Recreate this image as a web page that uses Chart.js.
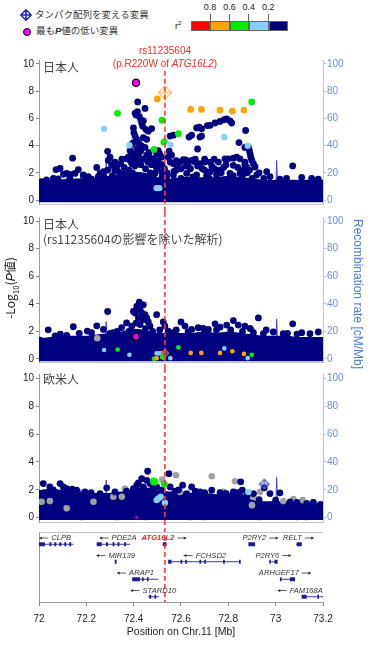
<!DOCTYPE html>
<html>
<head>
<meta charset="utf-8">
<script src="https://cdn.jsdelivr.net/npm/chart.js@4.4.1/dist/chart.umd.min.js"></script>
<style>
body { margin: 0; background: #fff; width: 373px; height: 646px; overflow: hidden; position: relative; font-family: "Liberation Sans", Arial, sans-serif; }
canvas { position: absolute; left: 0; }
.t { position: absolute; white-space: nowrap; z-index: 2; line-height: 1; }
.jp { font-family: "Noto Sans CJK JP", "Liberation Sans", sans-serif; }
.c { transform: translate(-50%, -50%); }
</style>
</head>
<body>
<canvas id="p1" width="373" height="162" style="top:50px"></canvas>
<canvas id="p2" width="373" height="156" style="top:212px"></canvas>
<canvas id="p3" width="373" height="160" style="top:368px"></canvas>
<canvas id="g" width="373" height="118" style="top:528px"></canvas>

<!-- legend -->
<svg class="t" width="12" height="12" style="left:20px;top:9px">
  <path d="M6 0.8 L11.2 6 L6 11.2 L0.8 6 Z M6 0.8 V11.2 M0.8 6 H11.2" fill="none" stroke="#2b2bb0" stroke-width="1.6"/>
</svg>
<div class="t jp" style="left:35px;top:10px;font-size:9.5px;color:#333">タンパク配列を変える変異</div>
<div class="t" style="left:23px;top:28px;width:6px;height:6px;border-radius:50%;background:#ff00ff;border:1px solid #000"></div>
<div class="t jp" style="left:36px;top:26px;font-size:9.5px;color:#333">最も<b><i style="font-family:'Liberation Sans'">P</i></b>値の低い変異</div>
<div class="t" style="left:175px;top:20px;font-size:9px;color:#222">r<sup style="font-size:6px">2</sup></div>
<div id="bar"></div>

<div class="t c" style="left:165px;top:51px;font-size:10px;color:#ff2a2a">rs11235604</div>
<div class="t c" style="left:165px;top:64px;font-size:10px;color:#ff2a2a">(p.R220W of <i>ATG16L2</i>)</div>

<div class="t jp" style="left:43px;top:61px;font-size:12px;color:#444">日本人</div>
<div class="t jp" style="left:43px;top:218px;font-size:12px;color:#444">日本人</div>
<div class="t jp" style="left:43px;top:233px;font-size:12px;color:#444">(rs11235604の影響を除いた解析)</div>
<div class="t jp" style="left:43px;top:373px;font-size:12px;color:#444">欧米人</div>

<div class="t jp" style="left:12px;top:288px;font-size:12px;color:#222;transform:translate(-50%,-50%) rotate(-90deg)">-Log<sub style="font-size:8px">10</sub>(<i style="font-family:'Liberation Sans'">P</i>値)</div>
<div class="t" style="left:358px;top:294px;font-size:12px;color:#4a7ad0;transform:translate(-50%,-50%) rotate(90deg)">Recombination rate [cM/Mb]</div>
<div class="t c" style="left:181px;top:631px;font-size:10.5px;color:#222">Position on Chr.11 [Mb]</div>

<script>
// ---- data ----
const xMin = 72, xMax = 73.2;
const rsPos = 72.532;              // rs11235604 (ATG16L2)
const xTicks = [72, 72.2, 72.4, 72.6, 72.8, 73, 73.2];
const yTicks = [0, 2, 4, 6, 8, 10];
const y2Ticks = [0, 20, 40, 60, 80, 100];

const r2Labels = ['0.8', '0.6', '0.4', '0.2'];
const r2Colors = ['#ff0000', '#ffa500', '#00ee00', '#87cefa', '#000080'];

// top of the dense cloud of points near zero
const bandX = [72.0, 72.05, 72.1, 72.15, 72.2, 72.25, 72.3, 72.35, 72.4, 72.45, 72.5, 72.55, 72.6,
               72.65, 72.7, 72.75, 72.8, 72.85, 72.9, 72.95, 73.0, 73.05, 73.1, 73.15, 73.2];
const bandTopJp = [1.2, 1.3, 1.35, 1.4, 1.4, 1.4, 1.6, 1.7, 1.9, 1.8, 1.5, 1.4, 1.5, 1.5, 1.5, 1.5, 1.6, 1.5, 1.4, 1.3, 1.3, 1.3, 1.3, 1.3, 1.3];
const bandTopCond = [1.3, 1.4, 1.5, 1.5, 1.5, 1.6, 1.7, 1.8, 2.0, 1.9, 1.7, 1.7, 1.7, 1.7, 1.8, 1.7, 1.8, 1.7, 1.6, 1.5, 1.5, 1.5, 1.4, 1.4, 1.4];
const bandTopEur = [1.8, 1.9, 1.8, 1.7, 1.6, 1.6, 1.6, 1.7, 1.9, 2.0, 1.8, 1.7, 1.7, 1.6, 1.6, 1.5, 1.6, 1.6, 1.1, 1.0, 1.0, 1.0, 0.9, 0.9, 0.9];

// recombination rate (cM/Mb)
const recombPos = [72.0, 72.05, 72.1, 72.15, 72.17, 72.177, 72.185, 72.22, 72.27, 72.28, 72.284, 72.29, 72.33, 72.4, 72.45,
                   72.5, 72.55, 72.6, 72.66, 72.7, 72.76, 72.8, 72.9, 72.99, 73.0, 73.004, 73.01, 73.06, 73.12, 73.2];
const recombRate = [1, 1, 2, 1, 2, 20, 2, 1, 2, 3, 27, 3, 1, 2, 1, 2, 1, 2, 1, 3, 1, 2, 1, 2, 3, 29, 3, 1, 2, 1];

// panel 1: Japanese
const jpLead = [[72.41, 8.62]];
const jpMissense = [[72.532, 7.9]];
const jpOrange = [[72.5, 7.43], [72.641, 6.66], [72.686, 6.66], [72.765, 6.61], [72.817, 6.54], [72.866, 6.61]];
const jpGreen = [[72.332, 6.37], [72.52, 5.87], [72.589, 4.87], [72.486, 3.72], [72.528, 4.25], [72.899, 7.21]];
const jpBlue = [[72.275, 5.23], [72.382, 4.03], [72.531, 4.32], [72.555, 4.06], [72.783, 4.63], [72.882, 3.99], [72.497, 0.88], [72.508, 0.88]];
const jpNavy = [
  [72.011, 1.36], [72.032, 1.48], [72.061, 1.6], [72.072, 2.24], [72.089, 2.32], [72.103, 1.89], [72.117, 1.96], [72.131, 1.89],
  [72.142, 3.08], [72.152, 1.96], [72.166, 2.24], [72.187, 1.84], [72.208, 1.72], [72.222, 1.53], [72.244, 2.39], [72.258, 1.96],
  [72.272, 2.08], [72.279, 1.6], [72.29, 3.58], [72.293, 2.91], [72.3, 3.15], [72.307, 2.55], [72.321, 2.79], [72.328, 2.43],
  [72.335, 2.08], [72.345, 2.67], [72.356, 1.96], [72.37, 3.03], [72.377, 3.15], [72.385, 2.91], [72.392, 2.67], [72.385, 3.63],
  [72.392, 4.1], [72.399, 4.22], [72.406, 6.37], [72.41, 6.25], [72.416, 6.49], [72.417, 7.21], [72.424, 6.13], [72.43, 5.9],
  [72.434, 5.66], [72.438, 5.42], [72.441, 5.82], [72.448, 6.73], [72.452, 5.18], [72.462, 5.06], [72.476, 5.25], [72.399, 5.3],
  [72.401, 4.94], [72.406, 4.7], [72.413, 4.46], [72.42, 4.22], [72.427, 4.06], [72.434, 3.96], [72.448, 3.87], [72.413, 3.75],
  [72.399, 3.39], [72.392, 3.2], [72.441, 4.58], [72.455, 4.46], [72.497, 3.39], [72.504, 3.63], [72.51, 3.39], [72.518, 3.15],
  [72.504, 2.79], [72.51, 2.55], [72.497, 2.32], [72.518, 2.08], [72.49, 1.96], [72.48, 1.67], [72.554, 4.7], [72.568, 4.77],
  [72.546, 3.15], [72.554, 2.79], [72.568, 2.67], [72.582, 2.55], [72.596, 2.79], [72.61, 2.96], [72.645, 2.91], [72.659, 2.79],
  [72.68, 2.67], [72.701, 2.79], [72.723, 2.79], [72.758, 2.79], [72.786, 3.03], [72.8, 3.03], [72.821, 3.08], [72.835, 3.15],
  [72.849, 3.03], [72.87, 2.79], [72.885, 3.87], [72.889, 3.63], [72.892, 3.39], [72.895, 3.15], [72.899, 2.91], [72.906, 2.67],
  [72.913, 2.43], [72.877, 2.43], [72.87, 2.6], [72.634, 4.63], [72.645, 4.77], [72.666, 5.3], [72.677, 5.35], [72.687, 5.23],
  [72.68, 4.63], [72.687, 4.7], [72.711, 5.47], [72.723, 5.49], [72.744, 5.66], [72.765, 5.78], [72.782, 5.9], [72.793, 5.97],
  [72.807, 5.82], [72.814, 5.66], [72.67, 3.75], [72.845, 4.22], [72.873, 5.11], [72.87, 3.87], [72.962, 2.08], [72.976, 1.72],
  [73.072, 2.51], [72.92, 1.84], [73.11, 1.67], [73.152, 1.6], [73.18, 1.53], [73.018, 1.53], [73.046, 1.6], [72.624, 1.96],
  [72.666, 1.84], [72.708, 1.77], [72.75, 1.84], [72.807, 1.96], [72.849, 1.96], [72.6, 1.6], [72.539, 1.72], [72.568, 1.84],
  [72.821, 2.55], [72.758, 2.2], [72.723, 2.08], [72.31, 1.8], [72.32, 2.2], [72.34, 1.7], [72.36, 2.4], [72.37, 1.8],
  [72.38, 2.2], [72.395, 2.0], [72.405, 2.5], [72.415, 2.9], [72.42, 3.3], [72.43, 2.6], [72.44, 3.0], [72.45, 2.3],
  [72.46, 2.8], [72.465, 3.5], [72.47, 2.0], [72.405, 3.0], [72.43, 3.6], [72.455, 3.3], [72.475, 2.6], [72.485, 3.0],
  [72.49, 2.6], [72.52, 1.7], [72.53, 2.3], [72.54, 2.0], [72.58, 2.2], [72.62, 2.5], [72.64, 2.3], [72.69, 2.3],
  [72.73, 2.5], [72.78, 2.4], [72.86, 2.2], [72.89, 2.2], [72.93, 2.0], [72.95, 1.6], [72.74, 3.0], [72.7, 3.0],
  [72.66, 3.0], [72.62, 2.95], [72.58, 2.9], [72.56, 3.3], [72.55, 3.6], [72.57, 2.1], [72.6, 2.3], [72.63, 2.6],
  [72.65, 1.7], [72.67, 2.5], [72.7, 2.2], [72.72, 1.6], [72.74, 2.3], [72.77, 2.0], [72.79, 2.6], [72.82, 1.8],
  [72.84, 2.4], [72.86, 1.8], [72.88, 2.0], [72.9, 1.6], [72.52, 2.6], [72.5, 2.9], [72.47, 3.1], [72.35, 3.0],
  [72.33, 2.6], [72.29, 2.2], [72.27, 1.7], [72.25, 1.7], [72.2, 1.6], [72.13, 1.6], [72.08, 1.55]
];

// panel 2: Japanese, conditioned on rs11235604
const condLead = [[72.41, 1.6]];
const condMissense = [[72.532, 0.42]];
const condOrange = [[72.497, 0.05], [72.641, 0.43], [72.686, 0.43], [72.765, 0.43], [72.817, 0.55], [72.866, 0.36]];
const condGreen = [[72.332, 0.67], [72.589, 0.83], [72.486, 0.0], [72.52, 0.12], [72.527, 0.07], [72.899, 0.29]];
const condBlue = [[72.275, 0.64], [72.382, 0.29], [72.497, 0.4], [72.507, 0.4], [72.517, 0.4], [72.555, 0.05], [72.783, 0.76], [72.882, 0.05]];
const condGray = [[72.246, 1.5], [72.899, 2.1]];
const condNavy = [
  [72.29, 3.44], [72.145, 2.33], [72.039, 2.11], [72.004, 1.35], [72.068, 1.66], [72.117, 1.71], [72.204, 2.02], [72.244, 2.4],
  [72.222, 1.9], [72.272, 2.14], [72.314, 1.9], [72.349, 2.26], [72.37, 2.61], [72.392, 2.38], [72.424, 4.11], [72.441, 3.92],
  [72.413, 3.8], [72.399, 3.44], [72.406, 3.33], [72.427, 3.56], [72.434, 3.33], [72.448, 3.21], [72.455, 2.97], [72.441, 2.85],
  [72.42, 2.97], [72.462, 2.68], [72.469, 2.38], [72.427, 2.49], [72.497, 3.21], [72.525, 2.68], [72.532, 2.38], [72.546, 2.02],
  [72.568, 1.9], [72.6, 2.68], [72.617, 2.38], [72.645, 2.14], [72.673, 2.26], [72.694, 2.21], [72.716, 2.14], [72.744, 2.54],
  [72.765, 2.3], [72.793, 2.45], [72.821, 2.78], [72.842, 2.45], [72.87, 2.38], [72.892, 2.21], [72.927, 2.97], [72.906, 1.9],
  [72.948, 1.83], [72.99, 1.95], [73.032, 1.83], [73.072, 2.54], [73.11, 1.9], [73.145, 1.83], [73.18, 1.95], [72.38, 2.0],
  [72.41, 2.6], [72.45, 2.2], [72.48, 2.0], [72.51, 2.1], [72.58, 2.1], [72.63, 1.95], [72.7, 2.0], [72.75, 2.1], [72.81, 2.1],
  [72.86, 2.0], [72.96, 2.1], [73.05, 1.85], [73.09, 1.8], [72.17, 1.85], [72.09, 1.8], [72.33, 2.0], [72.3, 1.85]
];

// panel 3: European
const eurLead = [[72.413, 0.02]];
const eurMissense = [[72.952, 2.4]];
const eurGreen = [[72.483, 2.64], [72.486, 2.55], [72.49, 2.6], [72.53, 2.4]];
const eurBlue = [[72.497, 1.26], [72.504, 1.38], [72.514, 1.5], [72.532, 1.07], [72.885, 1.85]];
const eurGray = [
  [72.579, 3.04], [72.73, 2.97], [72.828, 2.61], [72.521, 2.73], [72.363, 2.09], [73.032, 1.19], [73.075, 1.33], [73.114, 1.26],
  [72.596, 1.85], [72.779, 1.85], [72.011, 1.14], [72.046, 1.19], [72.314, 1.5], [72.906, 1.5], [72.934, 1.85], [72.23, 1.14],
  [72.35, 1.5], [72.117, 0.67], [72.9, 0.9], [73.16, 1.1]
];
const eurGrayLow = [[72.18, -0.05], [72.33, -0.05], [72.45, -0.05], [72.64, -0.05], [72.7, -0.05], [72.93, -0.05], [73.09, -0.05], [73.13, -0.05]];
const eurNavy = [
  [72.018, 2.45], [72.046, 2.21], [72.089, 2.45], [72.103, 2.21], [72.117, 2.09], [72.159, 1.97], [72.194, 1.85], [72.258, 1.73],
  [72.286, 2.14], [72.321, 1.85], [72.399, 2.09], [72.413, 2.33], [72.434, 2.8], [72.459, 3.33], [72.455, 2.68], [72.469, 2.45],
  [72.441, 2.21], [72.497, 2.21], [72.549, 3.16], [72.554, 2.21], [72.575, 1.9], [72.607, 2.33], [72.645, 2.21], [72.624, 1.73],
  [72.68, 1.85], [72.73, 1.97], [72.765, 1.8], [72.821, 1.85], [72.852, 2.57], [72.859, 1.97], [72.906, 1.73], [72.952, 2.14],
  [72.976, 1.73], [73.018, 1.78], [73.061, 1.14], [73.131, 1.02], [73.159, 1.09], [72.06, 2.0], [72.14, 2.05], [72.22, 1.8],
  [72.37, 1.9], [72.42, 2.5], [72.48, 2.3], [72.52, 2.0], [72.59, 2.0], [72.66, 1.9], [72.7, 1.8], [72.79, 1.75], [72.84, 1.8],
  [72.88, 1.6], [72.93, 1.3], [73.0, 1.25], [73.09, 1.1], [73.19, 0.95]
];

// gene track
const geneNames  = ['CLPB', 'PDE2A', 'ATG16L2', 'P2RY2', 'RELT', 'MIR139', 'FCHSD2', 'P2RY6', 'ARAP1', 'ARHGEF17', 'STARD10', 'FAM168A'];
const geneStart  = [72.0, 72.244, 72.523, 72.885, 73.086, 72.323, 72.546, 72.973, 72.394, 73.018, 72.462, 73.11];
const geneEnd    = [72.145, 72.385, 72.539, 72.913, 73.11, 72.325, 72.852, 73.008, 72.504, 73.082, 72.508, 73.2];
const geneRow    = [0, 0, 0, 0, 0, 1, 1, 1, 2, 2, 3, 3];
const geneStrand = [-1, -1, 1, 1, 1, -1, -1, 1, -1, 1, -1, -1];
const geneLabelX = [72.068, 72.334, 72.528, 72.935, 73.096, 72.324, 72.701, 72.99, 72.408, 73.039, 72.483, 73.104];
const exons = [
  [72.0, 72.025, 0], [72.044, 72.052, 0], [72.065, 72.073, 0], [72.086, 72.094, 0], [72.107, 72.115, 0], [72.128, 72.136, 0],
  [72.244, 72.265, 0], [72.283, 72.291, 0], [72.311, 72.319, 0], [72.332, 72.34, 0], [72.36, 72.368, 0],
  [72.523, 72.539, 0], [72.885, 72.913, 0], [73.089, 73.11, 0],
  [72.32, 72.328, 1], [72.546, 72.56, 1], [72.598, 72.605, 1], [72.618, 72.625, 1], [72.678, 72.685, 1], [72.698, 72.705, 1],
  [72.778, 72.785, 1], [72.845, 72.852, 1], [72.973, 72.979, 1], [72.995, 73.008, 1],
  [72.394, 72.427, 2], [72.435, 72.442, 2], [72.456, 72.463, 2], [73.018, 73.025, 2], [73.06, 73.082, 2],
  [72.466, 72.474, 3], [72.488, 72.495, 3], [73.11, 73.131, 3], [73.176, 73.183, 3]
];
const rowLineY = [3.3, 2.3, 1.3, 0.3];

// ---- drawing ----
const FONT = '"Liberation Sans", Arial, sans-serif';
const NAVY = '#000080';
Chart.defaults.font.family = FONT;

// r2 colour bar
(function () {
  const bar = document.getElementById('bar');
  r2Colors.forEach((c, i) => {
    const d = document.createElement('div');
    d.className = 't';
    d.style.cssText = `left:${191 + i * 19.4}px;top:21px;width:19.4px;height:10px;background:${c};box-sizing:border-box;border:1px solid #666`;
    bar.appendChild(d);
  });
  r2Labels.forEach((l, i) => {
    const x = 210 + i * 19.4;
    const d = document.createElement('div');
    d.className = 't c';
    d.style.cssText = `left:${x}px;top:7px;font-size:9px;color:#222`;
    d.textContent = l;
    bar.appendChild(d);
    const tk = document.createElement('div');
    tk.className = 't';
    tk.style.cssText = `left:${x - 0.5}px;top:14px;width:1px;height:7px;background:#666`;
    bar.appendChild(tk);
  });
})();

function diamondIcon(color, size, lw) {
  const c = document.createElement('canvas');
  c.width = c.height = size;
  const ctx = c.getContext('2d');
  const h = size / 2, m = lw;
  ctx.strokeStyle = color;
  ctx.lineWidth = lw;
  ctx.beginPath();
  ctx.moveTo(h, m); ctx.lineTo(size - m, h); ctx.lineTo(h, size - m); ctx.lineTo(m, h); ctx.closePath();
  ctx.moveTo(h, m); ctx.lineTo(h, size - m);
  ctx.moveTo(m, h); ctx.lineTo(size - m, h);
  ctx.stroke();
  return c;
}

const pts = arr => arr.map(([x, y]) => ({ x, y }));
const noClipX = { left: 0, right: 0, top: false, bottom: false };

function dots(arr, color, r, order, extra) {
  return Object.assign({
    type: 'scatter', data: pts(arr), pointRadius: r,
    pointBackgroundColor: color, pointBorderColor: color, pointBorderWidth: 0,
    order, clip: noClipX
  }, extra || {});
}

function band(tops) {
  return {
    type: 'line', data: bandX.map((x, i) => ({ x, y: tops[i] })),
    borderColor: NAVY, backgroundColor: NAVY, borderWidth: 5, pointRadius: 0,
    tension: 0.2, fill: { value: -0.17 }, order: 20, clip: 0
  };
}

// recombination line sits behind the dense cloud, only its peaks show
function recomb() {
  return {
    type: 'line', yAxisID: 'y2', data: recombPos.map((x, i) => ({ x, y: recombRate[i] })),
    borderColor: '#3c3cff', borderWidth: 1, pointRadius: 0, fill: false, order: 25, clip: 0
  };
}

const rsLinePlugin = {
  id: 'rsLine',
  afterDatasetsDraw(chart, args, opts) {
    const ctx = chart.ctx;
    const x = chart.scales.x.getPixelForValue(rsPos);
    const top = opts.fromY != null ? chart.scales.y.getPixelForValue(opts.fromY) : 0;
    const bottom = opts.toArea ? chart.chartArea.bottom : chart.height;
    ctx.save();
    ctx.strokeStyle = '#ff3838';
    ctx.lineWidth = 1.6;
    ctx.setLineDash([5, 3]);
    ctx.beginPath();
    ctx.moveTo(x, top);
    ctx.lineTo(x, bottom);
    ctx.stroke();
    ctx.restore();
  }
};

function panelScales(yMin, yMax) {
  return {
    x: {
      type: 'linear', min: xMin, max: xMax,
      ticks: { display: false }, grid: { display: false, drawTicks: false },
      border: { color: '#c4c4c4' },
      afterFit: s => { s.height = 0; s.paddingLeft = 0; s.paddingRight = 0; }
    },
    y: {
      position: 'left', min: yMin, max: yMax,
      afterBuildTicks: a => { a.ticks = yTicks.map(v => ({ value: v })); },
      ticks: { font: { size: 10 }, color: '#222', padding: 2 },
      grid: { drawOnChartArea: false, tickLength: 3, color: '#888' },
      border: { color: '#9a9a9a' },
      afterFit: s => { s.width = 39; s.paddingTop = 0; s.paddingBottom = 0; }
    },
    y2: {
      position: 'right', min: yMin * 10, max: yMax * 10,
      afterBuildTicks: a => { a.ticks = y2Ticks.map(v => ({ value: v })); },
      ticks: { font: { size: 10 }, color: '#6b8fdc', padding: 1 },
      grid: { drawOnChartArea: false, tickLength: 3, color: '#b9b9e6' },
      border: { color: '#c0c0e8' },
      afterFit: s => { s.width = 50; s.paddingTop = 0; s.paddingBottom = 0; }
    }
  };
}

function makePanel(id, datasets, padTop, padBottom, yMin, yMax, lineOpts) {
  return new Chart(document.getElementById(id), {
    type: 'scatter',
    data: { datasets },
    options: {
      responsive: false, animation: false, devicePixelRatio: 1, events: [],
      layout: { padding: { top: padTop, bottom: padBottom, left: 0, right: 0 } },
      scales: panelScales(yMin, yMax),
      plugins: { legend: { display: false }, tooltip: { enabled: false }, rsLine: lineOpts }
    },
    plugins: [rsLinePlugin]
  });
}

// panel 1
makePanel('p1', [
  band(bandTopJp),
  recomb(),
  dots(jpNavy, NAVY, 3.4, 10),
  dots(jpBlue, '#87cefa', 3.2, 5),
  dots(jpGreen, '#00ee00', 3.4, 4),
  dots(jpOrange, '#ffa500', 3.4, 3),
  dots(jpMissense, '#ffc880', 8, 1, { pointStyle: diamondIcon('#ffc070', 16, 1.3) }),
  dots(jpLead, '#ff00ff', 3.6, 0, { pointBorderColor: '#000', pointBorderWidth: 1.3 })
], 10, 4, -0.29, 10.29, { fromY: 9.5 });

// panel 2
makePanel('p2', [
  band(bandTopCond),
  recomb(),
  dots(condGray, '#a0a0a0', 3.3, 12),
  dots(condNavy, NAVY, 3.4, 10),
  dots(condBlue, '#87cefa', 2.3, 5),
  dots(condGreen, '#00ee00', 2.3, 4),
  dots(condOrange, '#ffa500', 2.3, 3),
  dots(condMissense, '#b07a50', 5, 1, { pointStyle: diamondIcon('#a8703f', 10, 1.2) }),
  dots(condLead, '#ff00ff', 3.4, 0, { pointBorderColor: '#000', pointBorderWidth: 1.3 })
], 3, 4, -0.28, 10.28, {});

// panel 3
makePanel('p3', [
  band(bandTopEur),
  recomb(),
  dots(eurGrayLow, '#a8a8a8', 2.2, 21),
  dots(eurGray, '#a0a0a0', 3.3, 12),
  dots(eurNavy, NAVY, 3.4, 10),
  dots(eurBlue, '#87cefa', 3.2, 5),
  dots(eurGreen, '#00ee00', 3.4, 4),
  dots(eurMissense, '#5050c0', 6, 1, { pointStyle: diamondIcon('#5a5ac8', 12, 1.2) }),
  dots(eurLead, '#b000b0', 1.6, 0)
], 5, 6, -0.31, 10.31, {});

// gene track
const geneBodies = [];
geneNames.forEach((n, i) => {
  geneBodies.push({ x: geneStart[i], y: rowLineY[geneRow[i]] }, { x: geneEnd[i], y: rowLineY[geneRow[i]] }, { x: geneEnd[i], y: null });
});
const exonPts = [];
exons.forEach(([s, e, r]) => {
  exonPts.push({ x: s, y: rowLineY[r] }, { x: e, y: rowLineY[r] }, { x: e, y: null });
});

const geneLabelPlugin = {
  id: 'geneLabels',
  afterDatasetsDraw(chart) {
    const ctx = chart.ctx, xs = chart.scales.x, ys = chart.scales.y;
    ctx.save();
    ctx.textBaseline = 'middle';
    ctx.textAlign = 'left';
    geneNames.forEach((n, i) => {
      const red = n === 'ATG16L2';
      ctx.font = (red ? 'italic bold ' : 'italic ') + '7.6px ' + FONT;
      const tw = ctx.measureText(n).width;
      const arrow = 9, gap = 3;
      const total = tw + arrow + gap;
      const cx = xs.getPixelForValue(geneLabelX[i]);
      const y = ys.getPixelForValue(rowLineY[geneRow[i]]) - 6.2;
      let x0 = cx - total / 2;
      let tx, a0, a1;
      if (geneStrand[i] < 0) { a0 = x0 + arrow; a1 = x0; tx = x0 + arrow + gap; }
      else { tx = x0; a0 = x0 + tw + gap; a1 = a0 + arrow; }
      ctx.fillStyle = red ? '#ff2020' : '#333';
      ctx.fillText(n, tx, y);
      ctx.strokeStyle = '#333';
      ctx.fillStyle = '#333';
      ctx.lineWidth = 0.8;
      ctx.beginPath();
      ctx.moveTo(a0, y); ctx.lineTo(a1, y); ctx.stroke();
      const d = a1 > a0 ? -1 : 1;
      ctx.beginPath();
      ctx.moveTo(a1, y); ctx.lineTo(a1 + d * 2.6, y - 1.6); ctx.lineTo(a1 + d * 2.6, y + 1.6); ctx.closePath(); ctx.fill();
    });
    ctx.restore();
  }
};

const topLinePlugin = {
  id: 'topLine',
  afterDraw(chart) {
    const { ctx, chartArea: a } = chart;
    ctx.save();
    ctx.strokeStyle = '#c4c4c4';
    ctx.lineWidth = 1;
    ctx.beginPath();
    ctx.moveTo(a.left, a.top + 0.5);
    ctx.lineTo(a.right, a.top + 0.5);
    ctx.stroke();
    ctx.restore();
  }
};

new Chart(document.getElementById('g'), {
  type: 'scatter',
  data: {
    datasets: [
      { type: 'line', data: exonPts, borderColor: '#1c1c8c', borderWidth: 4, borderCapStyle: 'butt', pointRadius: 0, spanGaps: false, order: 0 },
      { type: 'line', data: geneBodies, borderColor: '#3a3aa8', borderWidth: 1, pointRadius: 0, spanGaps: false, order: 1 }
    ]
  },
  options: {
    responsive: false, animation: false, devicePixelRatio: 1, events: [],
    layout: { padding: { top: 4, right: 50, left: 0, bottom: 0 } },
    scales: {
      x: {
        type: 'linear', min: xMin, max: xMax,
        afterBuildTicks: a => { a.ticks = xTicks.map(v => ({ value: v })); },
        ticks: { font: { size: 10 }, color: '#222', padding: 7, maxRotation: 0, autoSkip: false, callback: v => String(v) },
        grid: { drawOnChartArea: false, tickLength: 4, color: '#888' },
        border: { color: '#9a9a9a' },
        afterFit: s => { s.height = 44; s.paddingLeft = 0; s.paddingRight = 0; }
      },
      y: {
        min: 0, max: 4,
        ticks: { display: false }, grid: { display: false, drawTicks: false },
        border: { color: '#9a9a9a' },
        afterFit: s => { s.width = 39; s.paddingTop = 0; s.paddingBottom = 0; }
      }
    },
    plugins: { legend: { display: false }, tooltip: { enabled: false }, rsLine: { toArea: true } }
  },
  plugins: [rsLinePlugin, geneLabelPlugin, topLinePlugin]
});
</script>
</body>
</html>
